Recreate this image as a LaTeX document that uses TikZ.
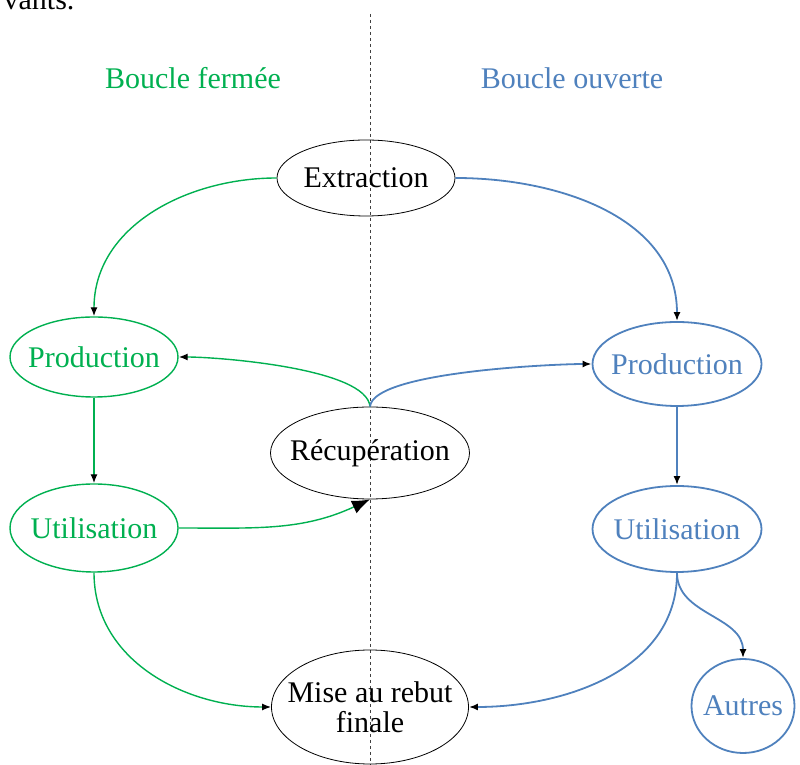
\documentclass[tikz,border=0pt]{standalone}
\usepackage{fontspec}
\setmainfont{Liberation Serif}
\usetikzlibrary{shapes.geometric,arrows.meta}
\definecolor{vert}{RGB}{0,176,80}
\definecolor{bleu}{RGB}{79,129,189}
\newcommand{\etiq}[1]{\makebox[0pt]{#1}}

\begin{document}
\begin{tikzpicture}[x=1pt,y=1pt,font={\fontsize{30}{30}\selectfont},
	etape/.style={ellipse,draw,inner sep=0pt,align=center},
	fleche/.style={-{Latex[black,length=9pt,width=7pt]}},
	grossefleche/.style={-{Latex[black,length=18pt,width=14pt]}},
	ferme/.style={vert,line width=1.4pt},
	ouvert/.style={bleu,line width=1.8pt}]
\useasboundingbox (0,0) rectangle (800,765);
\clip (0,0) rectangle (800,765);

\node[anchor=base east] (suite) at (78,755) {vants.};

% separation
\coordinate (haut) at (370,751);
\coordinate (bas) at (370,0);
\draw[dashed,line width=0.6pt,black!75] (haut) -- (bas);

\node[vert] (titreF) at (193,687) {Boucle fermée};
\node[bleu] (titreO) at (572,687) {Boucle ouverte};

\begin{scope}[line width=0.8pt]
		\node[etape,minimum width=178pt,minimum height=76pt] (ext) at (366,587) {\etiq{Extraction}};
		\node[etape,minimum width=199pt,minimum height=92pt] (recup) at (370,312) {\etiq{Récupération}};
		\node[etape,minimum width=197pt,minimum height=114pt] (rebut) at (370,58) {\etiq{Mise au rebut}\\\etiq{finale}};
\end{scope}

\node[etape,ferme,minimum width=168pt,minimum height=80pt] (prodF) at (94,408) {\etiq{Production}};
\node[etape,ferme,minimum width=168pt,minimum height=88pt] (utilF) at (94,237) {\etiq{Utilisation}};

\node[etape,ouvert,minimum width=169pt,minimum height=84pt] (prodO) at (677,401) {\etiq{Production}};
\node[etape,ouvert,minimum width=169pt,minimum height=86pt] (utilO) at (677,236) {\etiq{Utilisation}};
\node[etape,ouvert,minimum width=103pt,minimum height=94pt] (autres) at (743,59) {\etiq{Autres}};

% boucle fermee
\draw[ferme,fleche] (ext.west) to[out=180,in=90] (prodF.north);
\draw[ferme,fleche] (prodF.south) -- (utilF.north);
\draw[ferme,grossefleche] (utilF.east) to[out=0,in=205] (recup.south);
\draw[ferme,fleche] (recup.north) to[out=95,in=0,looseness=0.5] (prodF.east);
\draw[ferme,fleche] (utilF.south) to[out=-90,in=180] (rebut.west);

% boucle ouverte
\draw[ouvert,fleche] (ext.east) to[out=0,in=90] (prodO.north);
\draw[ouvert,fleche] (prodO.south) -- (utilO.north);
\draw[ouvert,fleche] (recup.north) to[out=85,in=180,looseness=0.4] (prodO.west);
\draw[ouvert,fleche] (utilO.south) to[out=-90,in=0] (rebut.east);
\draw[ouvert,fleche] (utilO.south) to[out=-90,in=90] (autres.north);

\end{tikzpicture}
\end{document}
